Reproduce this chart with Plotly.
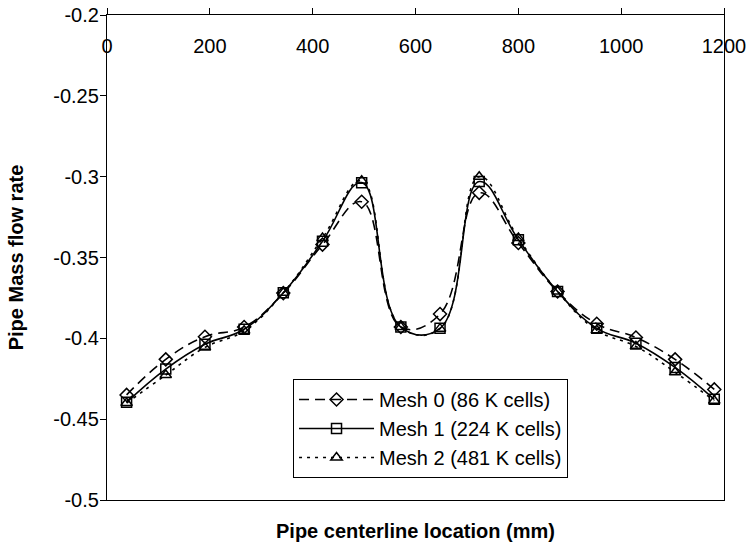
import plotly.graph_objects as go

# Data
x_mm = [38.1, 114.3, 190.5, 266.7, 342.9, 419.1, 495.3, 571.5, 647.7, 723.9,
        800.1, 876.3, 952.5, 1028.7, 1104.9, 1181.1]
mesh0 = [-0.435, -0.413, -0.399, -0.393, -0.372, -0.342, -0.3155, -0.393, -0.385, -0.310,
         -0.341, -0.371, -0.391, -0.3995, -0.413, -0.4316]
mesh1 = [-0.4396, -0.419, -0.4037, -0.3944, -0.3718, -0.340, -0.3037, -0.393, -0.3938, -0.303,
         -0.339, -0.371, -0.3938, -0.403, -0.418, -0.4377]
mesh2 = [-0.440, -0.4227, -0.4056, -0.3953, -0.3718, -0.338, -0.3025, -0.393, -0.394, -0.300,
         -0.338, -0.371, -0.395, -0.405, -0.421, -0.4386]
names = ["Mesh 0 (86 K cells)", "Mesh 1 (224 K cells)", "Mesh 2 (481 K cells)"]

x_ticks = [0, 200, 400, 600, 800, 1000, 1200]
y_ticks = [-0.5, -0.45, -0.4, -0.35, -0.3, -0.25, -0.2]
y_ticktext = ["-0.5", "-0.45", "-0.4", "-0.35", "-0.3", "-0.25", "-0.2"]

FONT = "Liberation Sans, Arial, sans-serif"
FS = 20

fig = go.Figure()
styles = [
    dict(dash="10px,6px", symbol="diamond-open"),
    dict(dash="solid", symbol="square-open"),
    dict(dash="3px,5px", symbol="triangle-up-open"),
]
for name, ys, st in zip(names, [mesh0, mesh1, mesh2], styles):
    fig.add_trace(go.Scatter(
        x=x_mm, y=ys, name=name, mode="lines+markers",
        line=dict(color="black", width=1.6, dash=st["dash"], shape="spline", smoothing=1.2),
        marker=dict(symbol=st["symbol"], size=10, color="black",
                    line=dict(color="black", width=1.5)),
    ))

# empty trace that only carries the tick-label axis drawn inside the plot
fig.add_trace(go.Scatter(x=[], y=[], xaxis="x2", yaxis="y", showlegend=False,
                         hoverinfo="skip"))

fig.update_layout(
    width=749, height=547, autosize=False,
    margin=dict(l=107, r=25, t=15, b=47),
    paper_bgcolor="white", plot_bgcolor="white",
    font=dict(family=FONT, size=FS, color="black"),
    showlegend=True,
    legend=dict(
        x=0.3015, y=0.2495, xanchor="left", yanchor="top",
        bgcolor="white", bordercolor="black", borderwidth=1,
        font=dict(family=FONT, size=FS, color="black"),
        itemwidth=75, tracegroupgap=0,
    ),
    xaxis=dict(
        range=[0, 1200], side="top", tickvals=x_ticks, showticklabels=False,
        ticks="outside", ticklen=6, tickcolor="black", tickwidth=1,
        showline=True, linecolor="black", linewidth=1.3, mirror=True,
        showgrid=False, zeroline=False, automargin=False,
    ),
    xaxis2=dict(
        range=[0, 1200], overlaying="x", anchor="free", position=0.965, side="bottom",
        tickvals=x_ticks, ticks="", showline=False, showgrid=False, zeroline=False,
        automargin=False, ticklabeloverflow="allow",
        tickfont=dict(family=FONT, size=FS, color="black"),
    ),
    yaxis=dict(
        range=[-0.5, -0.2], tickvals=y_ticks, ticktext=y_ticktext,
        ticks="outside", ticklen=6, tickcolor="black", tickwidth=1,
        ticklabelstandoff=-3, ticklabeloverflow="allow",
        showline=True, linecolor="black", linewidth=1.3, mirror=True,
        showgrid=False, zeroline=False, automargin=False,
        tickfont=dict(family=FONT, size=FS, color="black"),
        title=dict(text="<b>Pipe Mass flow rate</b>", standoff=24,
                   font=dict(family=FONT, size=FS, color="black")),
    ),
    annotations=[dict(
        text="<b>Pipe centerline location (mm)</b>", xref="paper", yref="paper",
        x=0.5, y=-0.064, xanchor="center", yanchor="middle", showarrow=False,
        font=dict(family=FONT, size=FS, color="black"),
    )],
)

fig.write_html("out.html", config={"displayModeBar": False},
               post_script="document.body.style.margin='0px';")
